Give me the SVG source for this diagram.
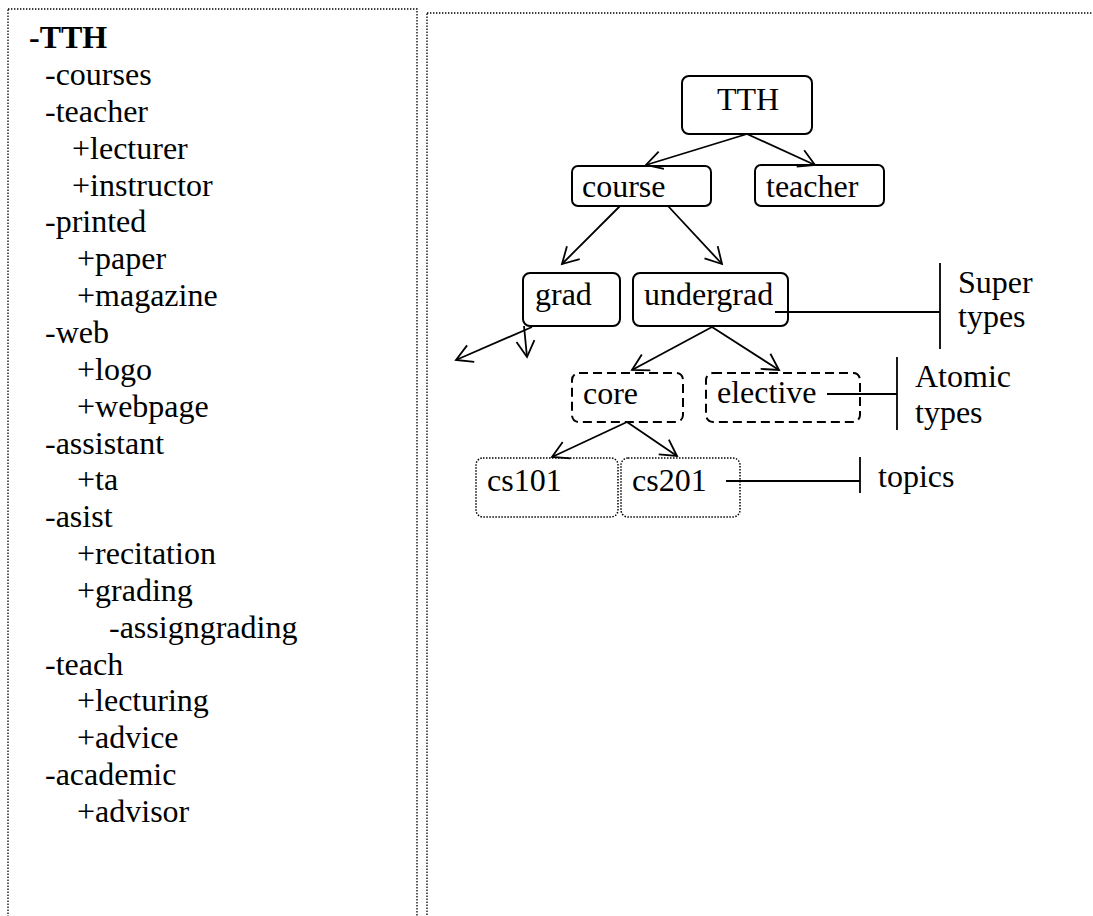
<svg xmlns="http://www.w3.org/2000/svg" width="1093" height="916" viewBox="0 0 1093 916">
<defs>
<style>
text{font-family:"Liberation Serif","Times New Roman",serif;font-size:32px;fill:#000}
.panel{fill:none;stroke:#000;stroke-width:1.3;stroke-dasharray:1.4 1.6}
.box{fill:#fff;stroke:#000;stroke-width:2}
.dash{fill:#fff;stroke:#000;stroke-width:2;stroke-dasharray:9 5}
.dot{fill:#fff;stroke:#000;stroke-width:1.5;stroke-dasharray:1.5 1.5}
.edge{fill:none;stroke:#000;stroke-width:1.8;marker-end:url(#arr)}
.ln{fill:none;stroke:#000;stroke-width:1.8}
</style>
<marker id="arr" markerUnits="userSpaceOnUse" markerWidth="40" markerHeight="40" refX="0" refY="0" viewBox="-20 -20 40 40" orient="auto" overflow="visible">
<path d="M-16,-9 L0,0 L-16,9" fill="none" stroke="#000" stroke-width="1.8"/>
</marker>
</defs>
<rect width="1093" height="916" fill="#fff"/>
<g id="panels">
<rect class="panel" x="8" y="9" width="409" height="960"/>
<rect class="panel" x="427" y="13" width="700" height="960"/>
</g>
<g id="outline">
<text x="29" y="48" font-weight="bold">-TTH</text>
<text x="45" y="85">-courses</text>
<text x="45" y="121.85">-teacher</text>
<text x="72" y="158.7">+lecturer</text>
<text x="72" y="195.55">+instructor</text>
<text x="45" y="232.4">-printed</text>
<text x="77" y="269.25">+paper</text>
<text x="77" y="306.1">+magazine</text>
<text x="45" y="342.95">-web</text>
<text x="77" y="379.8">+logo</text>
<text x="77" y="416.65">+webpage</text>
<text x="45" y="453.5">-assistant</text>
<text x="77" y="490.35">+ta</text>
<text x="45" y="527.2">-asist</text>
<text x="77" y="564.05">+recitation</text>
<text x="77" y="600.9">+grading</text>
<text x="109" y="637.75">-assigngrading</text>
<text x="45" y="674.6">-teach</text>
<text x="77" y="711.45">+lecturing</text>
<text x="77" y="748.3">+advice</text>
<text x="45" y="785.15">-academic</text>
<text x="77" y="822">+advisor</text>
</g>
<g id="node-TTH">
<rect class="box" x="682" y="76" width="130" height="58" rx="7"/>
<text x="717" y="110">TTH</text>
</g>
<g id="node-course">
<rect class="box" x="572" y="166" width="139" height="40" rx="6"/>
<text x="582" y="197">course</text>
</g>
<g id="node-teacher">
<rect class="box" x="755" y="165" width="129" height="41" rx="6"/>
<text x="766" y="197">teacher</text>
</g>
<g id="node-grad">
<rect class="box" x="523" y="273" width="97" height="53" rx="7"/>
<text x="535" y="305">grad</text>
</g>
<g id="node-undergrad">
<rect class="box" x="633" y="273" width="155" height="53" rx="7"/>
<text x="644" y="305">undergrad</text>
</g>
<g id="node-core">
<rect class="dash" x="572" y="373" width="111" height="49" rx="7"/>
<text x="583" y="404">core</text>
</g>
<g id="node-elective">
<rect class="dash" x="706" y="373" width="154" height="49" rx="7"/>
<text x="717" y="403">elective</text>
</g>
<g id="node-cs101">
<rect class="dot" x="476" y="458" width="142" height="59" rx="7"/>
<text x="487" y="491">cs101</text>
</g>
<g id="node-cs201">
<rect class="dot" x="621" y="458" width="119" height="59" rx="7"/>
<text x="632" y="491">cs201</text>
</g>
<g id="connectors">
<line class="edge" x1="747" y1="134" x2="646" y2="165"/>
<line class="edge" x1="747" y1="134" x2="815" y2="165"/>
<line class="edge" x1="620" y1="206" x2="562" y2="264"/>
<line class="edge" x1="668" y1="206" x2="722" y2="264"/>
<line class="edge" x1="532" y1="327" x2="456" y2="360"/>
<line class="edge" x1="524" y1="326" x2="527" y2="357"/>
<line class="edge" x1="712" y1="327" x2="632" y2="370"/>
<line class="edge" x1="712" y1="327" x2="779" y2="370"/>
<line class="edge" x1="627" y1="422" x2="552" y2="457"/>
<line class="edge" x1="627" y1="422" x2="677" y2="456"/>
<line class="ln" x1="775" y1="312" x2="940" y2="312"/>
<line class="ln" x1="940" y1="263" x2="940" y2="349"/>
<line class="ln" x1="827" y1="394" x2="897" y2="394"/>
<line class="ln" x1="897" y1="357" x2="897" y2="430"/>
<line class="ln" x1="726" y1="481" x2="860" y2="481"/>
<line class="ln" x1="860" y1="457" x2="860" y2="493"/>
</g>
<g id="labels">
<text x="958" y="293">Super</text>
<text x="958" y="327">types</text>
<text x="915" y="387">Atomic</text>
<text x="915" y="423">types</text>
<text x="878" y="487">topics</text>
</g>
</svg>
